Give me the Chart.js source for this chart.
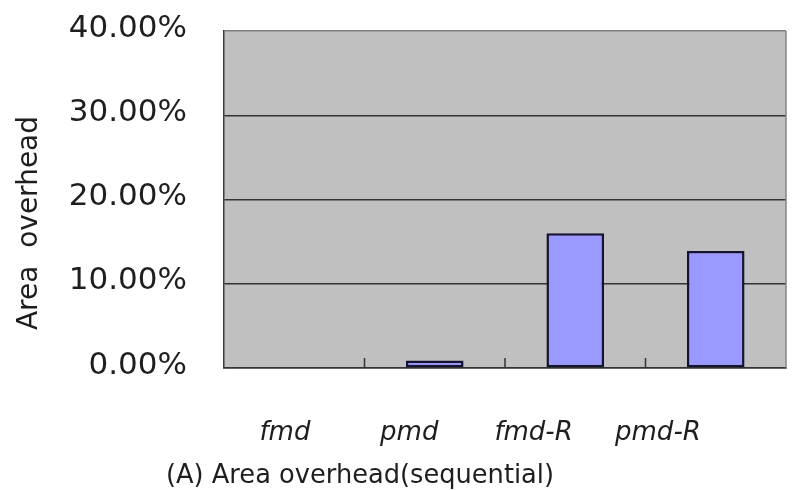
<!DOCTYPE html>
<html>
<head>
<meta charset="utf-8">
<script src="https://cdn.jsdelivr.net/npm/chart.js@4/dist/chart.umd.min.js"></script>
<style>
  html, body { margin: 0; padding: 0; background: #ffffff; }
  #wrap { width: 792px; height: 490px; }
</style>
</head>
<body>
<div id="wrap"><canvas id="c" width="792" height="490"></canvas></div>
<script>
// Area overhead of each design, in percent
const categories = ['fmd', 'pmd', 'fmd-R', 'pmd-R'];
const overheadPct = [0, 0.9, 16.0, 13.9];

// Value axis range and step, in percent
const yMin = 0;
const yMax = 40;
const yStep = 10;

const axisTitle = 'Area  overhead';
const captionText = '(A) Area overhead(sequential)';

const FONT = "'DejaVu Sans', Verdana, sans-serif";
const TEXT = '#1e1e1e';

// Span of the label axis, in category-index units
const LABEL_MIN = -0.49;
const LABEL_MAX = 4.03;

// Gray plot background, the lighter frame edge, inward category ticks and the captions
const frame = {
  id: 'frame',
  beforeDraw(chart) {
    const { ctx, chartArea: a } = chart;
    ctx.save();
    ctx.fillStyle = '#c0c0c0';
    ctx.fillRect(a.left, a.top, a.right - a.left, a.bottom - a.top);
    ctx.restore();
  },
  afterDraw(chart) {
    const { ctx, chartArea: a } = chart;
    const xs = chart.scales.x;
    ctx.save();
    // right edge of the plot frame
    ctx.strokeStyle = '#858585';
    ctx.lineWidth = 1.5;
    ctx.beginPath();
    ctx.moveTo(a.right, a.top);
    ctx.lineTo(a.right, a.bottom);
    ctx.stroke();
    // short ticks between categories, pointing into the plot
    ctx.strokeStyle = '#333333';
    ctx.lineWidth = 1.5;
    for (let i = 0; i < categories.length - 1; i++) {
      const bx = (xs.getPixelForTick(i) + xs.getPixelForTick(i + 1)) / 2;
      ctx.beginPath();
      ctx.moveTo(bx, a.bottom);
      ctx.lineTo(bx, a.bottom - 10);
      ctx.stroke();
    }
    // value axis title
    ctx.fillStyle = TEXT;
    ctx.font = '28px ' + FONT;
    ctx.textAlign = 'center';
    ctx.textBaseline = 'middle';
    ctx.translate(30, 223);
    ctx.rotate(-Math.PI / 2);
    ctx.fillText(axisTitle, 0, 0);
    ctx.restore();
    // figure caption
    ctx.save();
    ctx.fillStyle = TEXT;
    ctx.font = '25.7px ' + FONT;
    ctx.textAlign = 'center';
    ctx.textBaseline = 'alphabetic';
    ctx.fillText(captionText, 360, 483);
    ctx.restore();
  }
};

new Chart(document.getElementById('c'), {
  type: 'bar',
  data: {
    labels: categories,
    datasets: [{
      data: overheadPct,
      backgroundColor: '#9999ff',
      borderColor: '#141432',
      borderWidth: 2.5,
      borderSkipped: false,
      categoryPercentage: 1,
      barPercentage: 0.41
    }]
  },
  options: {
    responsive: false,
    animation: false,
    devicePixelRatio: 1,
    layout: { padding: { left: 0, right: 6, top: 31, bottom: 0 } },
    plugins: {
      legend: { display: false },
      tooltip: { enabled: false },
      title: { display: false }
    },
    scales: {
      x: {
        type: 'category',
        position: 'bottom',
        grid: { display: false, drawTicks: false },
        border: { display: true, color: '#333333', width: 1.5 },
        ticks: { display: false },
        afterFit(scale) { scale.height = 0; }
      },
      xLab: {
        type: 'linear',
        position: 'bottom',
        bounds: 'data',
        offset: false,
        min: LABEL_MIN,
        max: LABEL_MAX,
        grid: { display: false, drawTicks: false, offset: false },
        border: { display: false },
        afterBuildTicks(scale) {
          scale.min = LABEL_MIN;
          scale.max = LABEL_MAX;
          scale.ticks = categories.map((_, i) => ({ value: i }));
        },
        ticks: {
          autoSkip: false,
          maxRotation: 0,
          padding: 50,
          color: TEXT,
          font: { family: FONT, size: 26, style: 'italic' },
          callback: (v) => categories[v] !== undefined ? categories[v] : ''
        },
        afterFit(scale) { scale.height = 122; }
      },
      y: {
        min: yMin,
        max: yMax,
        grid: {
          drawTicks: false,
          color: (c) => (c.tick && c.tick.value === yMax) ? '#808080' : '#333333',
          lineWidth: 1.4
        },
        border: { display: true, color: '#3a3a3a', width: 1.5 },
        ticks: {
          stepSize: yStep,
          padding: 37,
          labelOffset: -2.5,
          color: TEXT,
          font: { family: FONT, size: 31 },
          callback: (v) => v.toFixed(2) + '%'
        },
        afterFit(scale) {
          scale.width = 224;
          scale.paddingTop = 0;
          scale.paddingBottom = 0;
        }
      }
    }
  },
  plugins: [frame]
});
</script>
</body>
</html>
